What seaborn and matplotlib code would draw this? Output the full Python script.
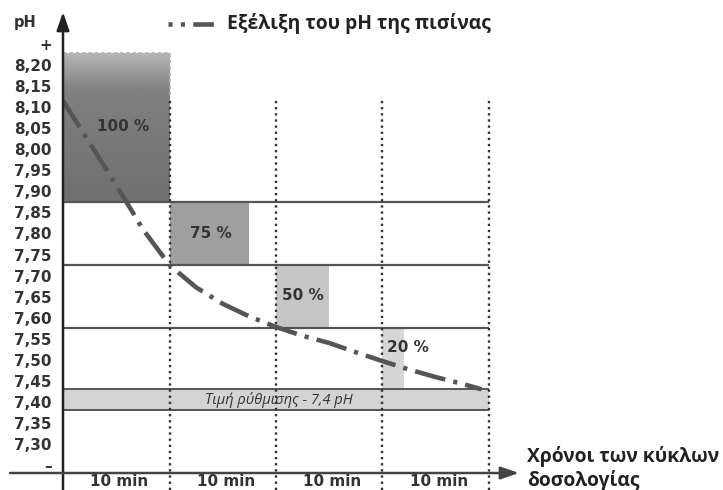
import numpy as np
import pandas as pd
import matplotlib
matplotlib.use("Agg")
import matplotlib.pyplot as plt
import seaborn as sns

# ---------------- data ----------------
ph_ticks = [8.25, 8.20, 8.15, 8.10, 8.05, 8.00, 7.95, 7.90, 7.85, 7.80, 7.75,
            7.70, 7.65, 7.60, 7.55, 7.50, 7.45, 7.40, 7.35, 7.30, 7.25]
ph_tick_labels = ["+", "8,20", "8,15", "8,10", "8,05", "8,00", "7,95", "7,90",
                  "7,85", "7,80", "7,75", "7,70", "7,65", "7,60", "7,55",
                  "7,50", "7,45", "7,40", "7,35", "7,30", "–"]

cycle_edges = [0, 10, 20, 30, 40]
cycle_labels = ["10 min", "10 min", "10 min", "10 min"]

dose_pct = ["100 %", "75 %", "50 %", "20 %"]
dose_start = [0, 10, 20, 30]
dose_minutes = [10, 7.5, 5, 2]
dose_top = [8.228, 7.875, 7.725, 7.575]
dose_bottom = [7.875, 7.725, 7.575, 7.43]

band_levels = [7.875, 7.725, 7.575]
setpoint_low, setpoint_high = 7.38, 7.43
setpoint_label = "Τιμή ρύθμισης - 7,4 pH"

curve_t = [0, 2.5, 5, 7.5, 10, 12.5, 15, 17.5, 20, 22.5, 25, 27.5, 30,
           32.5, 35, 37.5, 39.3]
curve_ph = [8.115, 8.015, 7.915, 7.81, 7.725, 7.672, 7.633, 7.603, 7.578,
            7.557, 7.54, 7.518, 7.497, 7.477, 7.459, 7.443, 7.43]

legend_label = "Εξέλιξη του pH της πισίνας"
xlabel_lines = ["Χρόνοι των κύκλων", "δοσολογίας"]
ylabel = "pH"

# ---------------- styles ----------------
sns.set_style("white")
plt.rcParams["font.family"] = ["DejaVu Sans"]
TXT = "#333333"
AX = "#222222"
GRID = "#555555"
CURVE = "#555555"
box_colors = [None, "#9f9f9f", "#c6c6c6", "#d6d6d6"]
label_pos = [(5.6, 8.053), (13.9, 7.801), (22.5, 7.652), (30.4, 7.530)]
label_ha = ["center", "center", "center", "left"]
dashdot = (0, (6.8, 1.8, 0.9, 1.8))

W, H = 723, 490
fig = plt.figure(figsize=(W / 100, H / 100), dpi=100)
x0, x1 = 63, 523
ytop, yaxis = 10, 473
ax = fig.add_axes([x0 / W, (H - yaxis) / H, (x1 - x0) / W, (yaxis - ytop) / H])

PX_T = 10.65     # px per minute
PX_PH = 421.2    # px per pH unit
def t_of(px):
    return (px - x0) / PX_T
def ph_of(py):
    return 8.2 - (py - 65) / PX_PH

xlim = (0, t_of(x1))
ylim = (ph_of(yaxis), ph_of(ytop))

# set-point band
ax.bar(cycle_edges[0], setpoint_high - setpoint_low, width=cycle_edges[-1] - cycle_edges[0],
       bottom=setpoint_low, align="edge", color="#d4d4d4", linewidth=0, zorder=1)
ax.hlines([setpoint_low, setpoint_high], cycle_edges[0], cycle_edges[-1],
          color=GRID, lw=1.4, zorder=3)
ax.text((cycle_edges[0] + cycle_edges[-1]) / 2 + 0.3, (setpoint_low + setpoint_high) / 2,
        setpoint_label, ha="center", va="center", fontsize=10.5, style="italic",
        family="Open Sans", color=TXT, zorder=5)

# dosing boxes
for i in range(len(dose_pct)):
    h = dose_top[i] - dose_bottom[i]
    if i == 0:
        bars = ax.bar(dose_start[i], h, width=dose_minutes[i], bottom=dose_bottom[i],
                      align="edge", color="#777777", linewidth=0, zorder=1)
        grad = np.concatenate([np.linspace(0.71, 0.50, 25), np.linspace(0.50, 0.44, 75)])
        im = ax.imshow(grad.reshape(-1, 1), cmap="gray", vmin=0, vmax=1, aspect="auto",
                       extent=(dose_start[i], dose_start[i] + dose_minutes[i],
                               dose_bottom[i], dose_top[i]), zorder=1.5,
                       interpolation="bilinear")
        im.set_clip_path(bars[0])
    else:
        ax.bar(dose_start[i], h, width=dose_minutes[i], bottom=dose_bottom[i],
               align="edge", color=box_colors[i], linewidth=0, zorder=1)
    ax.text(label_pos[i][0], label_pos[i][1], dose_pct[i], ha=label_ha[i], va="center",
            fontsize=11, fontweight="bold", color=TXT, zorder=5)

# light dashed border of 100 % box
ax.plot([dose_start[0], dose_start[0] + dose_minutes[0], dose_start[0] + dose_minutes[0]],
        [dose_top[0], dose_top[0], ph_of(97)], ls=(0, (2, 1.5)), color="#b5b5b5",
        lw=1.3, zorder=2)

# horizontal levels
ax.hlines(band_levels, cycle_edges[0], cycle_edges[-1], color=GRID, lw=1.6, zorder=3)

# vertical dotted cycle separators
ax.vlines(cycle_edges[1:], ph_of(H), ph_of(97), colors="#333333", lw=1.7,
          linestyles=(0, (1, 1.6)), zorder=3, clip_on=False)

# pH evolution curve
df = pd.DataFrame({"t": curve_t, "ph": curve_ph})
sns.lineplot(data=df, x="t", y="ph", ax=ax, color=CURVE, lw=3.3, sort=False,
             linestyle=dashdot, dash_capstyle="butt", zorder=4)

# legend sample
lg_y = ph_of(24)
ax.plot([t_of(168), t_of(220)], [lg_y, lg_y], color=CURVE, lw=3.3,
        ls=(3.6, (4.5, 1.8, 0.9, 1.8)), dash_capstyle="butt", clip_on=False)
ax.text(t_of(227), lg_y, legend_label, ha="left", va="center", fontsize=13.9,
        fontweight="bold", family="Open Sans", color="#222222")

# axes with arrows
ax.annotate("", xy=(0, ph_of(12)), xytext=(0, ph_of(H)),
            arrowprops=dict(arrowstyle="-|>,head_length=1.1,head_width=0.38",
                            lw=1.8, color=AX, shrinkA=0, shrinkB=0),
            annotation_clip=False, zorder=6)
ax.annotate("", xy=(t_of(519), ylim[0]), xytext=(t_of(10), ylim[0]),
            arrowprops=dict(arrowstyle="-|>,head_length=1.1,head_width=0.38",
                            lw=1.8, color="#444444", shrinkA=0, shrinkB=0),
            annotation_clip=False, zorder=6)

# x axis title (two lines)
ax.text(t_of(527), ph_of(457), xlabel_lines[0], ha="left", va="center", fontsize=13.9,
        fontweight="bold", family="Open Sans", color="#222222", clip_on=False)
ax.text(t_of(527), ph_of(481), xlabel_lines[1], ha="left", va="center", fontsize=13.9,
        fontweight="bold", family="Open Sans", color="#222222", clip_on=False)
fig.text(25 / W, 1 - 22 / H, ylabel, ha="center", va="center", fontsize=10.5,
         fontweight="bold", color=TXT)

# ticks
ax.set_yticks(ph_ticks)
ax.set_yticklabels(ph_tick_labels, fontsize=11, fontweight="bold", color=TXT)
centers = [(cycle_edges[i] + cycle_edges[i + 1]) / 2 + 0.3 for i in range(4)]
ax.set_xticks(centers)
ax.set_xticklabels(cycle_labels, fontsize=11, fontweight="bold", color=TXT)
ax.tick_params(axis="y", length=0, pad=8)
ax.tick_params(axis="x", length=0, pad=1)
ax.set_xlabel("")
ax.set_ylabel("")
for s in ax.spines.values():
    s.set_visible(False)
ax.set_xlim(*xlim)
ax.set_ylim(*ylim)
ax.set_facecolor("white")

fig.savefig("out.png", dpi=100, facecolor="white")
